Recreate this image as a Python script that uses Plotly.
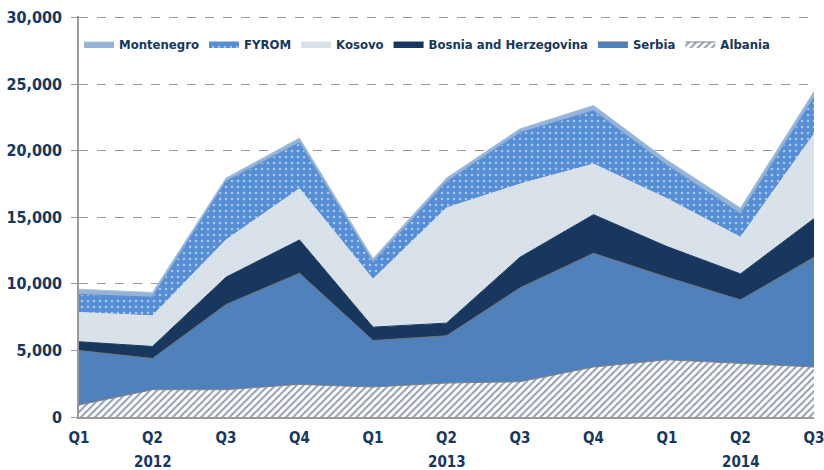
import plotly.graph_objects as go

quarters = ["Q1", "Q2", "Q3", "Q4", "Q1", "Q2", "Q3", "Q4", "Q1", "Q2", "Q3"]
years = ["2012", "2013", "2014"]
year_pos = [1, 5, 9]

albania = [900, 2050, 2050, 2450, 2250, 2550, 2650, 3750, 4300, 4050, 3750]
serbia = [4100, 2350, 6400, 8350, 3500, 3550, 7050, 8550, 6200, 4750, 8250]
bosnia = [650, 900, 2050, 2500, 1000, 950, 2300, 2900, 2300, 1950, 2900]
kosovo = [2200, 2300, 2800, 3850, 3600, 8650, 5500, 3800, 3600, 2750, 6350]
fyrom = [1350, 1400, 4400, 3450, 1250, 1950, 3850, 4000, 2500, 1750, 2750]
montenegro = [400, 350, 250, 350, 300, 300, 300, 400, 400, 450, 450]

x = list(range(len(quarters)))
NAVY = "#17375E"
FONT = "DejaVu Sans Condensed, Liberation Sans Narrow, Arial Narrow, sans-serif"

fig = go.Figure()
series = [
    ("Albania", albania, dict(fillcolor="white",
                              fillpattern=dict(shape="/", fgcolor="#1F3864", bgcolor="white", size=5, solidity=0.4)),
     "#808080"),
    ("Serbia", serbia, dict(fillcolor="#4F81BD"), "#6f6f6f"),
    ("Bosnia and Herzegovina", bosnia, dict(fillcolor="#17375E"), "#17375E"),
    ("Kosovo", kosovo, dict(fillcolor="#DCE3EA",
                            fillpattern=dict(shape=".", fgcolor="#C9D3DF", bgcolor="#DCE3EA", size=3, solidity=0.3)),
     "#DCE3EA"),
    ("FYROM", fyrom, dict(fillcolor="#558ED5",
                          fillpattern=dict(shape=".", fgcolor="#FFFFFF", bgcolor="#558ED5", size=6, solidity=0.15)),
     "#558ED5"),
    ("Montenegro", montenegro, dict(fillcolor="#95B3D7"), "#A9C3E0"),
]
for name, vals, fillkw, lc in series:
    fig.add_trace(go.Scatter(
        x=x, y=vals, name=name, mode="lines", stackgroup="one",
        line=dict(color=lc, width=1), hoverinfo="skip", **fillkw,
    ))

for yr, p in zip(years, year_pos):
    fig.add_annotation(x=p, y=-0.1125, xref="x", yref="paper", text=yr, showarrow=False,
                       yanchor="middle", font=dict(family=FONT, size=15, color=NAVY, weight="bold"))

fig.update_layout(
    width=824, height=470,
    margin=dict(l=79, r=10, t=16, b=53, autoexpand=False),
    paper_bgcolor="white", plot_bgcolor="white",
    showlegend=True,
    legend=dict(orientation="h", x=0.0, y=0.93, xanchor="left", yanchor="middle",
                traceorder="reversed", font=dict(family=FONT, size=13, color=NAVY, weight="bold"),
                itemwidth=30, bgcolor="rgba(0,0,0,0)", tracegroupgap=0),
    font=dict(family=FONT, color=NAVY),
)
fig.update_xaxes(
    range=[0, 10], tickvals=x, ticktext=quarters, showgrid=False, zeroline=False,
    showline=True, linecolor="#9a9a9a", linewidth=1.5, automargin=False,
    ticklabeloverflow="allow",
    tickfont=dict(family=FONT, size=15, color=NAVY, weight="bold"), ticklabelstandoff=6,
)
fig.update_yaxes(
    range=[0, 30120], tickvals=[0, 5000, 10000, 15000, 20000, 25000, 30000], tickformat=",",
    showgrid=True, gridcolor="#9a9a9a", griddash="dash", gridwidth=1, zeroline=False,
    showline=True, linecolor="#9a9a9a", linewidth=1.5, automargin=False,
    ticklabeloverflow="allow",
    ticks="outside", ticklen=6, tickcolor="#9a9a9a",
    tickfont=dict(family=FONT, size=16, color=NAVY, weight="bold"), ticklabelstandoff=6,
)

fig.write_html(
    "out.html",
    config={"displayModeBar": False},
    post_script="document.body.style.margin='0px';document.body.style.overflow='hidden';",
)
